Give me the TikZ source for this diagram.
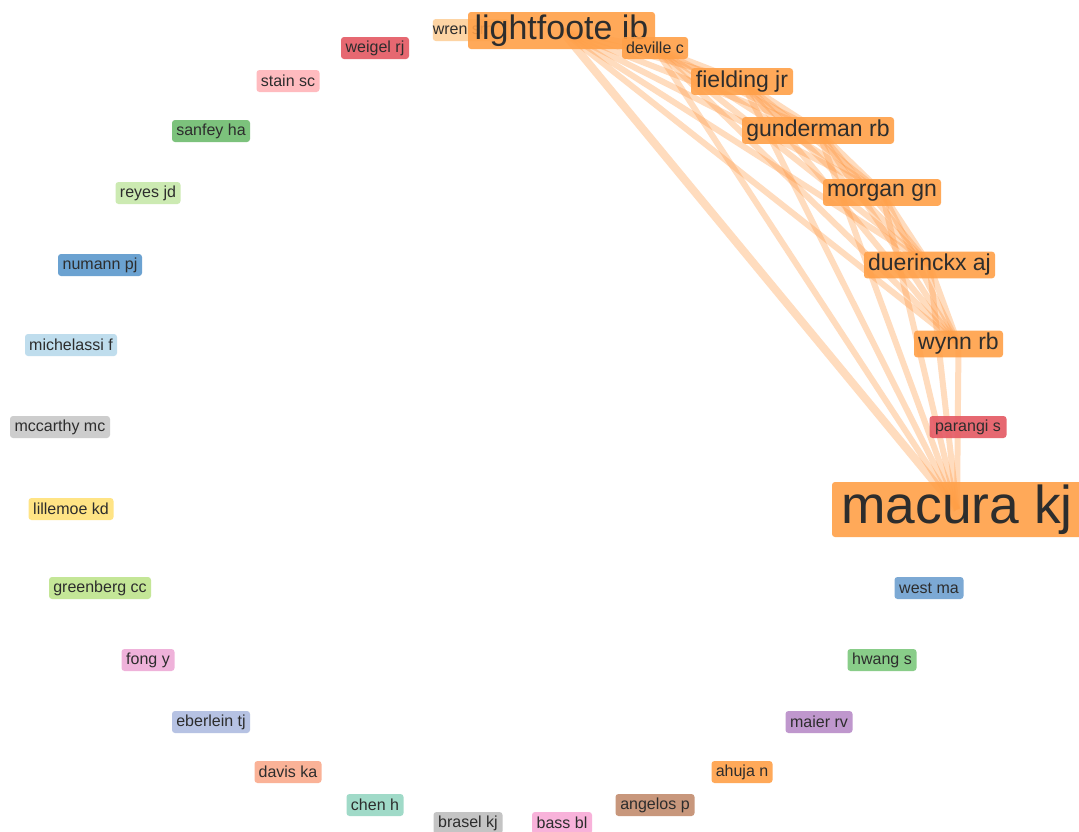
\documentclass[tikz,border=0pt]{standalone}
\usepackage{fontspec}
\setmainfont{Liberation Sans}
\pgfdeclarelayer{bg}
\pgfsetlayers{bg,main}
\newcommand\myfs[1]{\fontsize{#1}{#1}\selectfont}
\definecolor{txt}{RGB}{45,45,45}
\definecolor{corange}{RGB}{255,160,72}
\definecolor{cedge}{RGB}{255,150,60}
\definecolor{cred}{RGB}{228,88,98}
\definecolor{cpinkl}{RGB}{255,180,185}
\definecolor{cgreen}{RGB}{110,188,110}
\definecolor{clgreen}{RGB}{199,232,170}
\definecolor{cblue}{RGB}{92,152,204}
\definecolor{cblue2}{RGB}{110,160,208}
\definecolor{clblue}{RGB}{185,218,236}
\definecolor{cgray}{RGB}{200,200,200}
\definecolor{cyellow}{RGB}{255,226,120}
\definecolor{cygreen}{RGB}{190,228,140}
\definecolor{cpink}{RGB}{238,170,215}
\definecolor{clav}{RGB}{175,188,225}
\definecolor{csalmon}{RGB}{250,170,140}
\definecolor{cteal}{RGB}{150,215,195}
\definecolor{cgray2}{RGB}{190,190,190}
\definecolor{cpink2}{RGB}{248,170,215}
\definecolor{cbrown}{RGB}{195,140,110}
\definecolor{cpurple}{RGB}{185,140,200}
\definecolor{cgreen2}{RGB}{125,200,125}
\definecolor{cpeach}{RGB}{253,208,155}
\tikzset{
  lbl/.style={rounded corners=2.25pt, inner sep=0pt, text=txt, fill opacity=0.9, text opacity=1,
    minimum height=16.5pt, font=\myfs{12pt}},
  med/.style={minimum height=20pt, font=\myfs{17.25pt}},
  bw/.style={minimum width=#1*0.75pt},
  edge/.style={draw=cedge, draw opacity=0.33, line width=4.5pt},
  thick edge/.style={edge, line width=6pt}
}
\begin{document}
\begin{tikzpicture}[x=0.75pt,y=-0.75pt]
\useasboundingbox (0,0) rectangle (1079,832);
% left / bottom ring
\node[lbl,bw=75,fill=cpeach] (wren) at (471,30) {wren sm\phantom{xx}};
\node[lbl,bw=68,fill=cred] (weigel) at (375,48) {weigel rj};
\node[lbl,bw=63,fill=cpinkl] (stain) at (288,81) {stain sc};
\node[lbl,bw=78,fill=cgreen] (sanfey) at (211,131) {sanfey ha};
\node[lbl,bw=65,fill=clgreen] (reyes) at (148,193) {reyes jd};
\node[lbl,bw=84,fill=cblue] (numann) at (100,265) {numann pj};
\node[lbl,bw=92,fill=clblue] (michelassi) at (71,345) {michelassi f};
\node[lbl,bw=100,fill=cgray] (mccarthy) at (60,427) {mccarthy mc};
\node[lbl,bw=85,fill=cyellow] (lillemoe) at (71,509) {lillemoe kd};
\node[lbl,bw=102,fill=cygreen] (greenberg) at (100,588) {greenberg cc};
\node[lbl,bw=53,fill=cpink] (fong) at (148,660) {fong y};
\node[lbl,bw=78,fill=clav] (eberlein) at (211,722) {eberlein tj};
\node[lbl,bw=67,fill=csalmon] (davis) at (288,772) {davis ka};
\node[lbl,bw=57,fill=cteal] (chen) at (375,805) {chen h};
\node[lbl,bw=69,fill=cgray2] (brasel) at (468,823) {brasel kj};
\node[lbl,bw=60,fill=cpink2] (bass) at (562,823) {bass bl};
\node[lbl,bw=79,fill=cbrown] (angelos) at (655,805) {angelos p};
\node[lbl,bw=61,fill=corange] (ahuja) at (742,772) {ahuja n};
\node[lbl,bw=67,fill=cpurple] (maier) at (819,722) {maier rv};
\node[lbl,bw=69,fill=cgreen2] (hwang) at (882,660) {hwang s};
\node[lbl,bw=69,fill=cblue2] (west) at (929,588) {west ma};
\node[lbl,bw=77,fill=cred] (parangi) at (968,427) {parangi s};
% orange cluster
\node[lbl,bw=187,fill=corange,minimum height=27.75pt,font=\myfs{25.5pt}] (lf) at (561.5,30.5) {lightfoote ib};
\node[lbl,bw=66,fill=corange] (dev) at (655,48) {deville c};
\node[lbl,med,bw=102,fill=corange] (fie) at (742,81.5) {fielding jr};
\node[lbl,med,bw=152,fill=corange] (gun) at (818,130.5) {gunderman rb};
\node[lbl,med,bw=118,fill=corange] (mor) at (882,192.5) {morgan gn};
\node[lbl,med,bw=131,fill=corange] (due) at (929.5,265) {duerinckx aj};
\node[lbl,med,bw=89,fill=corange] (wyn) at (958.5,344) {wynn rb};
\node[lbl,bw=250,fill=corange,minimum height=41.25pt,font=\myfs{40pt}] (mac) at (957,509.5) {macura kj};
\begin{pgfonlayer}{bg}
\fill[white] (0,0) rectangle (1079,832);
\foreach \a/\b in {lf/dev,lf/fie,lf/gun,lf/mor,lf/due,lf/wyn,
  dev/fie,dev/gun,dev/mor,dev/due,dev/wyn,dev/mac,
  fie/gun,fie/mor,fie/due,fie/wyn,fie/mac,
  gun/mor,gun/due,gun/wyn,gun/mac,
  mor/due,mor/wyn,mor/mac,due/wyn,due/mac,wyn/mac}
  \draw[edge] (\a.center) -- (\b.center);
\draw[thick edge] (lf.center) -- (mac.center);
\end{pgfonlayer}
\end{tikzpicture}
\end{document}
